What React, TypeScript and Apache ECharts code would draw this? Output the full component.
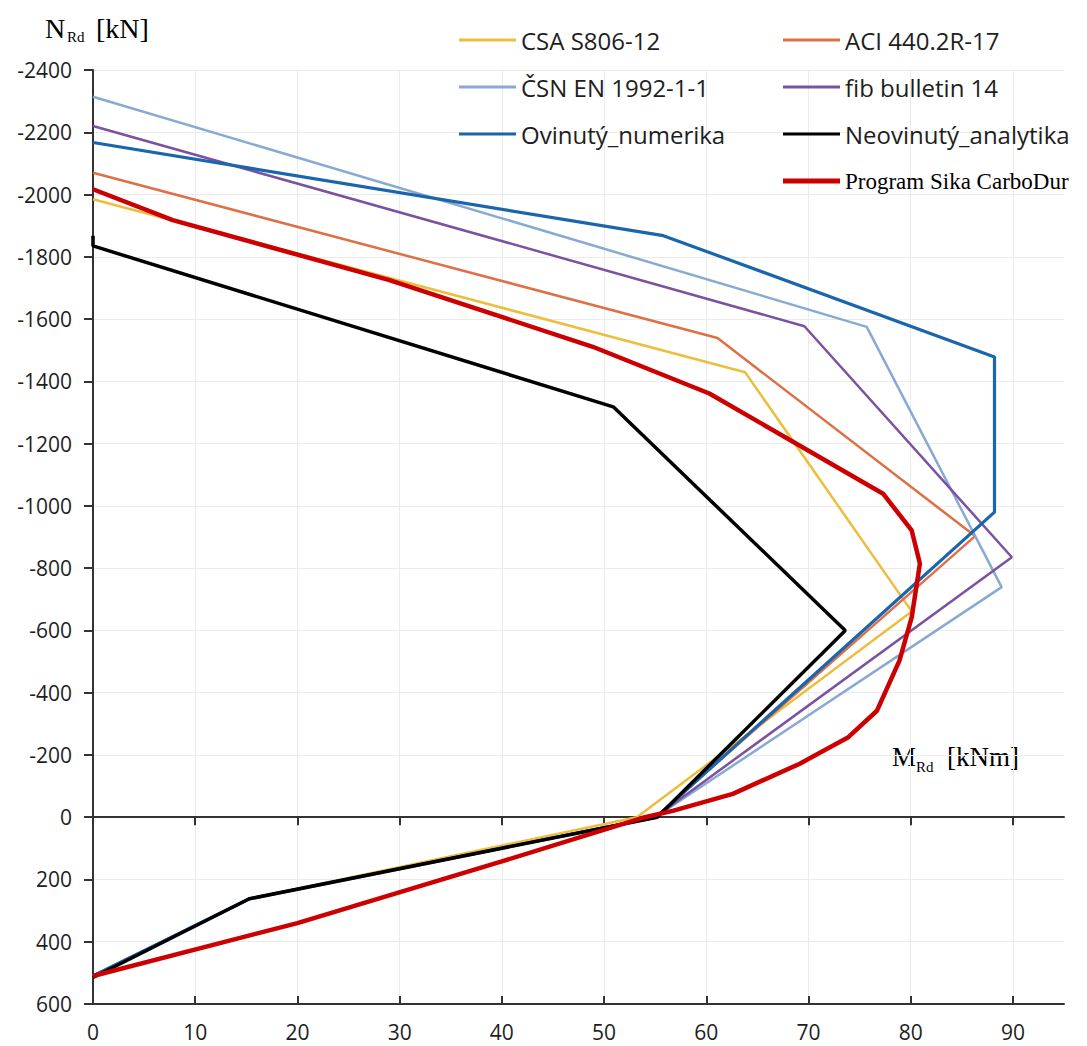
import React, { useEffect, useRef } from "react";
import * as echarts from "echarts";

// Moment axis ticks (kNm) and axial-force range (kN)
const xTicks = [0, 10, 20, 30, 40, 50, 60, 70, 80, 90];
const xMin = 0;
const xMax = 95;
const yMin = -2400;
const yMax = 600;
const yStep = 200;

// Interaction diagrams: M_Rd [kNm] and N_Rd [kN]
const csaM = [0, 63.8, 80.1, 53.2, 15.3, 0];
const csaN = [-1985, -1429, -661, 0, 262, 510];

const aciM = [0, 61.1, 86.3, 55.0, 15.3, 0];
const aciN = [-2070, -1539, -903, 0, 262, 510];

const csnM = [0, 75.7, 88.9, 55.0, 15.3, 0];
const csnN = [-2314, -1575, -739, 0, 262, 510];

const fibM = [0, 69.6, 89.9, 55.0, 15.3, 0];
const fibN = [-2220, -1577, -835, 0, 262, 510];

const ovinM = [0, 55.8, 88.2, 88.2, 55.1, 15.3, 0];
const ovinN = [-2167, -1868, -1478, -980, 0, 262, 510];

const neoM = [0, 0, 50.9, 73.6, 55.2, 15.3, 0];
const neoN = [-1868, -1835, -1318, -600, 0, 262, 515];

const sikaM = [0, 7.8, 29, 48.9, 60.3, 77.3, 80.1, 80.9, 80.7, 80.1, 78.9, 76.7, 73.9, 69.1, 62.6, 56.8, 54.0, 40, 20, 0];
const sikaN = [-2017, -1918, -1725, -1511, -1361, -1039, -921, -815, -771, -642, -503, -342, -257, -171, -75, -21, 0, 142, 340, 510];

const names = [
  "CSA S806-12",
  "ACI 440.2R-17",
  "ČSN EN 1992-1-1",
  "fib bulletin 14",
  "Ovinutý_numerika",
  "Neovinutý_analytika",
  "Program Sika CarboDur",
];
const colors = ["#EDBE3C", "#DE7045", "#88AAD2", "#7B52A2", "#1A66AD", "#000000", "#CC0000"];
const widths = [2.5, 2.5, 2.5, 2.5, 3.2, 3.5, 4.5];
const Ms = [csaM, aciM, csnM, fibM, ovinM, neoM, sikaM];
const Ns = [csaN, aciN, csnN, fibN, ovinN, neoN, sikaN];

const SANS = "'Open Sans', 'Noto Sans', sans-serif";
const SERIF = "'Liberation Serif', 'DejaVu Serif', serif";

function buildOption() {
  const series = names.map((name, i) => ({
    name,
    type: "line",
    xAxisIndex: 0,
    yAxisIndex: 0,
    data: Ms[i].map((m, j) => [m, Ns[i][j]]),
    symbol: "none",
    showSymbol: false,
    lineStyle: { color: colors[i], width: widths[i] },
    itemStyle: { color: colors[i] },
    z: 3 + i,
    silent: true,
  }));

  const legendText = { fontFamily: SANS, fontSize: 24, color: "#1e1e1e", lineHeight: 30 };
  const baseLegend = {
    orient: "vertical",
    selectedMode: false,
    icon: "rect",
    itemWidth: 57,
    itemHeight: 3,
    itemGap: 17,
    padding: 0,
    textStyle: legendText,
  };

  return {
    animation: false,
    backgroundColor: "#ffffff",
    grid: { left: 93, right: 23, top: 70, bottom: 42 },
    legend: [
      {
        ...baseLegend,
        left: 459,
        top: 25,
        data: [names[0], names[2], names[4]],
      },
      {
        ...baseLegend,
        left: 783,
        top: 25,
        data: [names[1], names[3], names[5]],
      },
      {
        ...baseLegend,
        left: 783,
        top: 166,
        itemHeight: 5,
        data: [names[6]],
        textStyle: { fontFamily: SERIF, fontSize: 23, color: "#000", lineHeight: 30 },
      },
    ],
    xAxis: [
      {
        type: "value",
        min: xMin,
        max: xMax,
        interval: 10,
        position: "bottom",
        axisLine: { show: false, onZero: false },
        axisTick: { show: false },
        axisLabel: {
          customValues: xTicks,
          fontFamily: SANS,
          fontSize: 21,
          color: "#1e1e1e",
          margin: 17,
        },
        splitLine: {
          show: true,
          showMinLine: false,
          showMaxLine: false,
          lineStyle: { color: "#ebebeb", width: 1 },
        },
      },
      {
        type: "value",
        min: xMin,
        max: xMax,
        interval: 10,
        position: "bottom",
        axisLine: { show: true, onZero: true, lineStyle: { color: "#333", width: 2 } },
        axisTick: { show: true, customValues: xTicks, length: 8, inside: false, lineStyle: { color: "#333", width: 2 } },
        axisLabel: { show: false },
        splitLine: { show: false },
      },
      {
        type: "value",
        min: xMin,
        max: xMax,
        interval: 10,
        position: "bottom",
        axisLine: { show: true, onZero: true, lineStyle: { color: "#333", width: 2 } },
        axisTick: { show: true, customValues: xTicks, length: 8, inside: true, lineStyle: { color: "#333", width: 2 } },
        axisLabel: { show: false },
        splitLine: { show: false },
      },
    ],
    yAxis: {
      type: "value",
      inverse: true,
      min: yMin,
      max: yMax,
      interval: yStep,
      axisLine: { show: true, onZero: false, lineStyle: { color: "#333", width: 2 } },
      axisTick: { show: true, length: 9, lineStyle: { color: "#333", width: 2 } },
      axisLabel: {
        fontFamily: SANS,
        fontSize: 21,
        color: "#1e1e1e",
        margin: 21,
        formatter: (v: number) => String(v),
      },
      splitLine: { show: true, lineStyle: { color: "#ebebeb", width: 1 } },
    },
    graphic: [
      { type: "text", left: 45, top: 14, style: { text: "N", font: `28px ${SERIF}`, fill: "#000" } },
      { type: "text", left: 67, top: 29, style: { text: "Rd", font: `15px ${SERIF}`, fill: "#000" } },
      { type: "text", left: 96, top: 14, style: { text: "[kN]", font: `28px ${SERIF}`, fill: "#000" } },
      { type: "text", left: 892, top: 743, style: { text: "M", font: `27px ${SERIF}`, fill: "#000" } },
      { type: "text", left: 916, top: 759, style: { text: "Rd", font: `15px ${SERIF}`, fill: "#000" } },
      { type: "text", left: 947, top: 743, style: { text: "[kNm]", font: `27px ${SERIF}`, fill: "#000" } },
    ],
    series,
  };
}

export default function App() {
  const ref = useRef<HTMLDivElement>(null);
  useEffect(() => {
    if (!ref.current) return;
    const chart = echarts.init(ref.current, null, { renderer: "svg" });
    chart.setOption(buildOption() as any);
    return () => chart.dispose();
  }, []);
  return (
    <div
      ref={ref}
      style={{ position: "absolute", left: 0, top: 0, width: 1087, height: 1046, background: "#fff" }}
    />
  );
}
